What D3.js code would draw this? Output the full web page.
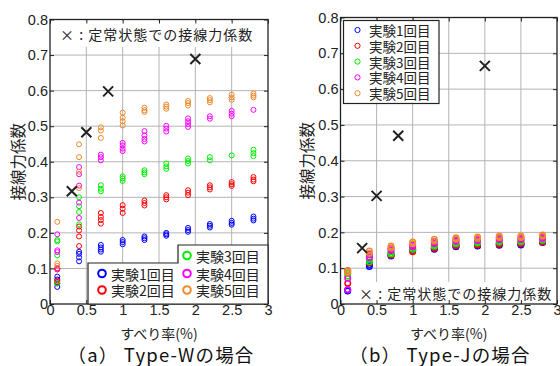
<!DOCTYPE html>
<html>
<head>
<meta charset="utf-8">
<script src="https://cdn.jsdelivr.net/npm/d3@7"></script>
<style>
  body { margin: 0; background: #fff; }
  text { font-family: "Liberation Sans", Arial, sans-serif; }
  .jp { font-family: "Noto Sans CJK JP", sans-serif; }
</style>
</head>
<body>
<script>
var w = 560;
var h = 366;

// slip ratio columns (%)
var slip = [0.1, 0.4, 0.7, 1.0, 1.3, 1.6, 1.9, 2.2, 2.5, 2.8];
var xTicks = [0, 0.5, 1, 1.5, 2, 2.5, 3];
var yTicks = [0, 0.1, 0.2, 0.3, 0.4, 0.5, 0.6, 0.7, 0.8];

var seriesNames = ["実験1回目", "実験2回目", "実験3回目", "実験4回目", "実験5回目"];
var seriesColors = ["#0000ff", "#ff0000", "#00ee00", "#ff00ff", "#ee8a2a"];

// Type-W: several readings per slip column, per experiment
var w1 = [[0.077, 0.069, 0.058, 0.048], [0.147, 0.141, 0.131, 0.120], [0.166, 0.159, 0.153, 0.147], [0.18, 0.174, 0.168], [0.19, 0.185, 0.18], [0.2, 0.196, 0.192], [0.214, 0.208, 0.203], [0.225, 0.22, 0.215], [0.234, 0.228, 0.223], [0.246, 0.24, 0.235]];
var w2 = [[0.10, 0.097, 0.066, 0.062], [0.218, 0.207, 0.19, 0.163], [0.256, 0.245, 0.236, 0.226], [0.278, 0.268, 0.256], [0.291, 0.284, 0.277], [0.306, 0.3, 0.294], [0.32, 0.313, 0.306], [0.334, 0.328, 0.322], [0.343, 0.337, 0.332], [0.357, 0.35, 0.345]];
var w3 = [[0.18, 0.176, 0.137, 0.058], [0.30, 0.275, 0.259, 0.224], [0.334, 0.324, 0.317], [0.359, 0.353, 0.346], [0.376, 0.37, 0.365], [0.395, 0.387, 0.38], [0.409, 0.402, 0.395], [0.413, 0.404], [0.418], [0.434, 0.424, 0.416]];
var w4 = [[0.196, 0.151, 0.146, 0.10], [0.385, 0.365, 0.333, 0.285, 0.242], [0.42, 0.413, 0.404], [0.453, 0.446, 0.437, 0.43], [0.486, 0.474, 0.464, 0.457], [0.501, 0.493, 0.485], [0.522, 0.514, 0.506, 0.498], [0.528, 0.521], [0.543, 0.535, 0.528], [0.546]];
var w5 = [[0.231, 0.114, 0.107], [0.449, 0.413, 0.372, 0.326], [0.497, 0.488, 0.467], [0.538, 0.524, 0.514, 0.502], [0.552, 0.545, 0.54], [0.561, 0.555, 0.549], [0.571, 0.565, 0.558], [0.579, 0.573, 0.567], [0.589, 0.581, 0.574], [0.592, 0.586, 0.581]];

// Type-J
var j1 = [[0.04, 0.036], [0.11, 0.105], [0.138, 0.134], [0.153, 0.15], [0.156, 0.153], [0.162, 0.16], [0.164, 0.162], [0.166, 0.164], [0.167, 0.165], [0.174, 0.172]];
var j2 = [[0.093, 0.058], [0.13, 0.115], [0.14, 0.136], [0.152, 0.146], [0.16, 0.156], [0.166, 0.163], [0.168, 0.165], [0.17, 0.167], [0.171, 0.168], [0.176, 0.173]];
var j3 = [[0.085, 0.078], [0.125, 0.118], [0.145, 0.14], [0.158, 0.153], [0.165, 0.161], [0.172, 0.168], [0.174, 0.17], [0.177, 0.173], [0.177, 0.174], [0.181, 0.178]];
var j4 = [[0.072, 0.04], [0.138, 0.13], [0.155, 0.15], [0.165, 0.16], [0.174, 0.169], [0.179, 0.175], [0.181, 0.177], [0.184, 0.18], [0.184, 0.18], [0.187, 0.183]];
var j5 = [[0.093, 0.088], [0.148, 0.142], [0.162, 0.157], [0.173, 0.168], [0.181, 0.176], [0.185, 0.181], [0.187, 0.183], [0.19, 0.186], [0.19, 0.186], [0.193, 0.189]];

// steady-state coefficients (x marks)
var steadyX = [0.3, 0.5, 0.8, 2.0];
var steadyW = [0.317, 0.483, 0.598, 0.689];
var steadyJ = [0.156, 0.302, 0.47, 0.665];

var svg = d3.select("body")
    .append("svg")
    .attr("width", w)
    .attr("height", h);

svg.append("rect").attr("width", w).attr("height", h).attr("fill", "#fff");

function flatten(series) {
    var pts = [];
    series.forEach(function (col, i) {
        col.forEach(function (v) { pts.push([slip[i], v]); });
    });
    return pts;
}

function drawPanel(p) {
    var xScale = d3.scaleLinear().domain([0, 3]).range([p.left, p.right]);
    var yScale = d3.scaleLinear().domain([0, 0.8]).range([p.bottom, p.top]);
    var g = svg.append("g");

    // grid
    g.selectAll(".gx").data(xTicks.slice(1, -1)).enter().append("line")
        .attr("x1", function (d) { return xScale(d); })
        .attr("x2", function (d) { return xScale(d); })
        .attr("y1", p.top).attr("y2", p.bottom)
        .attr("stroke", "#b4b4b4").attr("stroke-width", 1);
    g.selectAll(".gy").data(yTicks.slice(1, -1)).enter().append("line")
        .attr("y1", function (d) { return yScale(d); })
        .attr("y2", function (d) { return yScale(d); })
        .attr("x1", p.left).attr("x2", p.right)
        .attr("stroke", "#b4b4b4").attr("stroke-width", 1);

    // annotation background box hides grid
    g.append("rect")
        .attr("x", p.noteBox[0]).attr("y", p.noteBox[1])
        .attr("width", p.noteBox[2]).attr("height", p.noteBox[3])
        .attr("fill", "#fff");

    // data circles
    p.series.forEach(function (s, k) {
        g.selectAll(null).data(flatten(s)).enter().append("circle")
            .attr("cx", function (d) { return xScale(d[0]); })
            .attr("cy", function (d) { return yScale(d[1]); })
            .attr("r", p.r)
            .attr("fill", "none")
            .attr("stroke", seriesColors[k])
            .attr("stroke-width", p.sw);
    });

    // x marks
    g.selectAll(null).data(steadyX).enter().append("path")
        .attr("d", "M-5,-5L5,5M-5,5L5,-5")
        .attr("transform", function (d, i) {
            return "translate(" + xScale(d) + "," + yScale(p.steady[i]) + ")";
        })
        .attr("fill", "none")
        .attr("stroke", "#222")
        .attr("stroke-width", 2);

    // annotation text
    g.append("text").attr("class", "jp")
        .attr("x", p.noteText[0]).attr("y", p.noteText[1])
        .attr("font-size", 14)
        .attr("letter-spacing", 1)
        .attr("fill", "#222")
        .attr("dominant-baseline", "central")
        .text("× : 定常状態での接線力係数");

    // axes (ticks inward, mirrored)
    var ax = [
        d3.axisBottom(xScale).tickValues(xTicks).tickSize(-4).tickFormat(d3.format("")),
        d3.axisTop(xScale).tickValues(xTicks).tickSize(-4).tickFormat(""),
        d3.axisLeft(yScale).tickValues(yTicks).tickSize(-4).tickFormat(d3.format("")),
        d3.axisRight(yScale).tickValues(yTicks).tickSize(-4).tickFormat("")
    ];
    var pos = ["translate(0," + p.bottom + ")", "translate(0," + p.top + ")",
        "translate(" + p.left + ",0)", "translate(" + p.right + ",0)"];
    ax.forEach(function (a, i) {
        var ag = g.append("g").attr("transform", pos[i]).call(a);
        ag.select(".domain").remove();
        ag.selectAll("line").attr("stroke", "#222");
        ag.selectAll("text").attr("font-size", 14.5).attr("fill", "#222")
            .attr("font-family", "Liberation Sans, Arial, sans-serif");
        if (i === 0) ag.selectAll("text").attr("dy", "0.5em").attr("y", 4);
        if (i === 2) ag.selectAll("text").attr("x", -2);
    });

    // frame
    g.append("rect")
        .attr("x", p.left).attr("y", p.top)
        .attr("width", p.right - p.left).attr("height", p.bottom - p.top)
        .attr("fill", "none").attr("stroke", "#222").attr("stroke-width", 1.3);

    // axis labels
    g.append("text").attr("class", "jp")
        .attr("x", (p.left + p.right) / 2).attr("y", 333)
        .attr("text-anchor", "middle").attr("dominant-baseline", "central")
        .attr("font-size", 14).attr("fill", "#222")
        .text("すべり率(%)");
    g.append("text").attr("class", "jp")
        .attr("transform", "translate(" + p.ylabX + "," + (p.top + p.bottom) / 2 + ") rotate(-90)")
        .attr("text-anchor", "middle").attr("dominant-baseline", "central")
        .attr("font-size", 15.5).attr("fill", "#222")
        .text("接線力係数");

    // caption
    g.append("text").attr("class", "jp")
        .attr("x", p.capX).attr("y", 354)
        .attr("text-anchor", "middle").attr("dominant-baseline", "central")
        .attr("font-size", 18.5).attr("letter-spacing", 1.2).attr("fill", "#111")
        .text(p.caption);

    return g;
}

var gW = drawPanel({
    left: 50, right: 268, top: 19.5, bottom: 304,
    series: [w1, w2, w3, w4, w5], steady: steadyW,
    r: 2.5, sw: 1,
    noteBox: [52, 21, 214, 26], noteText: [60, 34],
    ylabX: 17, capX: 161, caption: "（a） Type-Wの場合"
});

var gJ = drawPanel({
    left: 340.5, right: 557, top: 17.5, bottom: 304,
    series: [j1, j2, j3, j4, j5], steady: steadyJ,
    r: 2.8, sw: 1.4,
    noteBox: [342, 282, 214, 21], noteText: [359, 293],
    ylabX: 306, capX: 440, caption: "（b） Type-Jの場合"
});

// Type-W legend: two-column block, column 2 taller
var legW = gW.append("g");
legW.append("path")
    .attr("d", "M88,263H178V245H268V304H88Z")
    .attr("fill", "#fff").attr("stroke", "#222").attr("stroke-width", 1.2);
var legWpos = [[102, 273.5], [102, 290], [187, 255.5], [187, 273.5], [187, 290]];
seriesNames.forEach(function (name, k) {
    legW.append("circle")
        .attr("cx", legWpos[k][0]).attr("cy", legWpos[k][1]).attr("r", 3.8)
        .attr("fill", "none").attr("stroke", seriesColors[k]).attr("stroke-width", 2);
    legW.append("text").attr("class", "jp")
        .attr("x", legWpos[k][0] + 9).attr("y", legWpos[k][1])
        .attr("dominant-baseline", "central")
        .attr("font-size", 14).attr("fill", "#222")
        .text(name);
});

// Type-J legend
var legJ = gJ.append("g");
legJ.append("rect")
    .attr("x", 343.5).attr("y", 20.5).attr("width", 95.5).attr("height", 83)
    .attr("fill", "#fff").attr("stroke", "#222").attr("stroke-width", 1.2);
seriesNames.forEach(function (name, k) {
    var y = 30 + k * 15.8;
    legJ.append("circle")
        .attr("cx", 357.5).attr("cy", y).attr("r", 2.6)
        .attr("fill", "none").attr("stroke", seriesColors[k]).attr("stroke-width", 1);
    legJ.append("text").attr("class", "jp")
        .attr("x", 369).attr("y", y)
        .attr("dominant-baseline", "central")
        .attr("font-size", 13.5).attr("fill", "#222")
        .text(name);
});
</script>
</body>
</html>
